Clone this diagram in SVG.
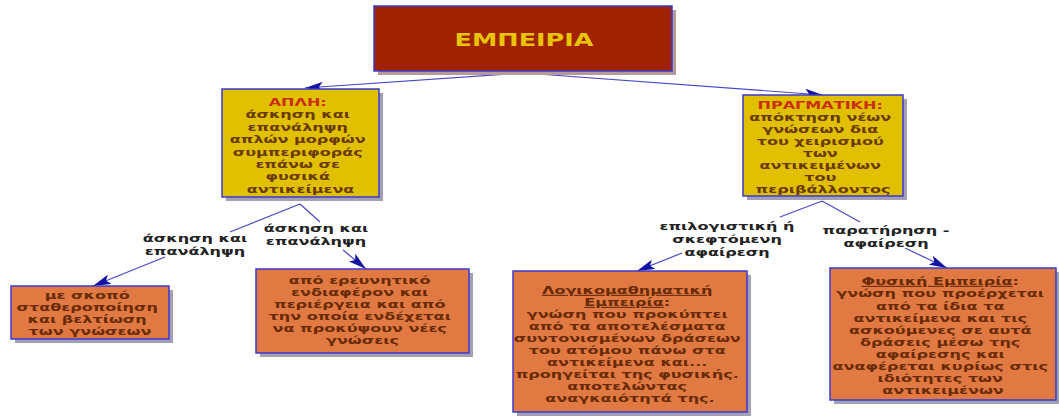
<svg xmlns="http://www.w3.org/2000/svg" width="1059" height="416" viewBox="0 0 1059 416">
<style>
.box{stroke:#3a3ad0;stroke-width:1.5}
.shadow{fill:#a4a0b4}
.main{fill:#a02200}
.yel{fill:#e0c000}
.org{fill:#e07a42}
.t{font-family:"DejaVu Sans",Verdana,sans-serif;font-weight:bold;font-size:11px;text-anchor:middle}
.ty{fill:#6a3a08}
.to{fill:#6a2a06}
.tl{fill:#222222}
.hd{fill:#c83010}
.conn{stroke:#4848c8;stroke-width:1.2;fill:none}
</style>
<defs>
<marker id="ah" markerUnits="userSpaceOnUse" viewBox="0 0 18 10" refX="18" refY="5" markerWidth="18" markerHeight="10" orient="auto">
<path d="M0,0 L18,5 L0,10 L4,5 z" fill="#1414a0"/>
</marker>
</defs>
<rect width="1059" height="416" fill="#ffffff"/>

<g id="connectors">
<path class="conn" d="M524,73 L305,88" marker-end="url(#ah)"/>
<path class="conn" d="M524,73 L823,95" marker-end="url(#ah)"/>
<path class="conn" d="M300,204 L230,232"/>
<path class="conn" d="M165,257 L93,286" marker-end="url(#ah)"/>
<path class="conn" d="M300,204 L320,222"/>
<path class="conn" d="M343,250 L366,269" marker-end="url(#ah)"/>
<path class="conn" d="M822,201 L780,217"/>
<path class="conn" d="M682,253 L637,271" marker-end="url(#ah)"/>
<path class="conn" d="M822,201 L860,222"/>
<path class="conn" d="M905,248 L947,268" marker-end="url(#ah)"/>
</g>

<g id="labels">
<text class="t tl" transform="translate(195,0) scale(1.46,1)"><tspan x="0" y="242">άσκηση και</tspan><tspan x="0" y="255">επανάληψη</tspan></text>
<text class="t tl" transform="translate(316,0) scale(1.46,1)"><tspan x="0" y="232">άσκηση και</tspan><tspan x="0" y="245">επανάληψη</tspan></text>
<text class="t tl" transform="translate(727,0) scale(1.46,1)"><tspan x="0" y="230">επιλογιστική ή</tspan><tspan x="0" y="243">σκεφτόμενη</tspan><tspan x="0" y="256">αφαίρεση</tspan></text>
<text class="t tl" transform="translate(886,0) scale(1.46,1)"><tspan x="0" y="234">παρατήρηση -</tspan><tspan x="0" y="247">αφαίρεση</tspan></text>
</g>

<g id="node-empeiria">
<rect x="378" y="10" width="298" height="65" style="fill:#b49a9a"/>
<rect class="box main" x="374" y="6" width="298" height="65"/>
<text x="0" y="46" transform="translate(524,0) scale(1.5,1)" style="font-family:'DejaVu Sans',Verdana,sans-serif;font-weight:bold;font-size:17px;text-anchor:middle;fill:#e8c400">ΕΜΠΕΙΡΙΑ</text>
</g>

<g id="node-apli">
<rect class="shadow" x="226" y="93" width="157" height="108"/>
<rect class="box yel" x="222" y="89" width="157" height="108"/>
<text class="t ty" transform="translate(300.5,0) scale(1.46,1)">
<tspan class="hd" x="0" y="106">ΑΠΛΗ:</tspan>
<tspan x="0" y="118.4">άσκηση και</tspan>
<tspan x="0" y="130.8">επανάληψη</tspan>
<tspan x="0" y="143.2">απλών μορφών</tspan>
<tspan x="0" y="155.6">συμπεριφοράς</tspan>
<tspan x="0" y="168">επάνω σε</tspan>
<tspan x="0" y="180.4">φυσικά</tspan>
<tspan x="0" y="192.8">αντικείμενα</tspan>
</text>
</g>

<g id="node-pragmatiki">
<rect class="shadow" x="747" y="99" width="160" height="101"/>
<rect class="box yel" x="743" y="95" width="160" height="101"/>
<text class="t ty" transform="translate(823,0) scale(1.46,1)">
<tspan class="hd" x="0" y="109">ΠΡΑΓΜΑΤΙΚΗ:</tspan>
<tspan x="0" y="121">απόκτηση νέων</tspan>
<tspan x="0" y="133">γνώσεων δια</tspan>
<tspan x="0" y="145">του χειρισμού</tspan>
<tspan x="0" y="157">των</tspan>
<tspan x="0" y="169">αντικειμένων</tspan>
<tspan x="0" y="181">του</tspan>
<tspan x="0" y="193">περιβάλλοντος</tspan>
</text>
</g>

<g id="node-skopos">
<rect class="shadow" x="15" y="290" width="158" height="53"/>
<rect class="box org" x="11" y="286" width="158" height="53"/>
<text class="t to" transform="translate(90,0) scale(1.46,1)">
<tspan x="0" y="299">με σκοπό</tspan>
<tspan x="0" y="311">σταθεροποίηση</tspan>
<tspan x="0" y="323">και βελτίωση</tspan>
<tspan x="0" y="335">των γνώσεων</tspan>
</text>
</g>

<g id="node-ereunitiko">
<rect class="shadow" x="260" y="273" width="213" height="84"/>
<rect class="box org" x="256" y="269" width="213" height="84"/>
<text class="t to" transform="translate(362.5,0) scale(1.46,1)">
<tspan x="0" y="284">από ερευνητικό</tspan>
<tspan x="0" y="296">ενδιαφέρον και</tspan>
<tspan x="0" y="308">περιέργεια και από</tspan>
<tspan x="0" y="320">την οποία ενδέχεται</tspan>
<tspan x="0" y="332">να προκύψουν νέες</tspan>
<tspan x="0" y="344">γνώσεις</tspan>
</text>
</g>

<g id="node-logikomathimatiki">
<rect class="shadow" x="517" y="275" width="234" height="141"/>
<rect class="box org" x="513" y="271" width="234" height="141"/>
<text class="t to" transform="translate(630,0) scale(1.46,1)">
<tspan x="0" y="294" text-decoration="underline">Λογικομαθηματική</tspan>
<tspan x="0" y="306"><tspan text-decoration="underline">Εμπειρία</tspan>:</tspan>
<tspan x="0" y="318">γνώση που προκύπτει</tspan>
<tspan x="0" y="330">από τα αποτελέσματα</tspan>
<tspan x="0" y="342">συντονισμένων δράσεων</tspan>
<tspan x="0" y="354">του ατόμου πάνω στα</tspan>
<tspan x="0" y="366">αντικείμενα και...</tspan>
<tspan x="0" y="378">προηγείται της φυσικής.</tspan>
<tspan x="0" y="390">αποτελώντας</tspan>
<tspan x="0" y="402">αναγκαιότητά της.</tspan>
</text>
</g>

<g id="node-fysiki">
<rect class="shadow" x="834" y="272" width="226" height="132"/>
<rect class="box org" x="830" y="268" width="226" height="132"/>
<text class="t to" transform="translate(943,0) scale(1.46,1)">
<tspan x="0" y="285"><tspan text-decoration="underline">Φυσική Εμπειρία</tspan>:</tspan>
<tspan x="0" y="297.5">γνώση που προέρχεται</tspan>
<tspan x="0" y="310">από τα ίδια τα</tspan>
<tspan x="0" y="322">αντικείμενα και τις</tspan>
<tspan x="0" y="334">ασκούμενες σε αυτά</tspan>
<tspan x="0" y="346">δράσεις μέσω της</tspan>
<tspan x="0" y="358">αφαίρεσης και</tspan>
<tspan x="0" y="370">αναφέρεται κυρίως στις</tspan>
<tspan x="0" y="382">ιδιότητες των</tspan>
<tspan x="0" y="394">αντικειμένων</tspan>
</text>
</g>
</svg>
